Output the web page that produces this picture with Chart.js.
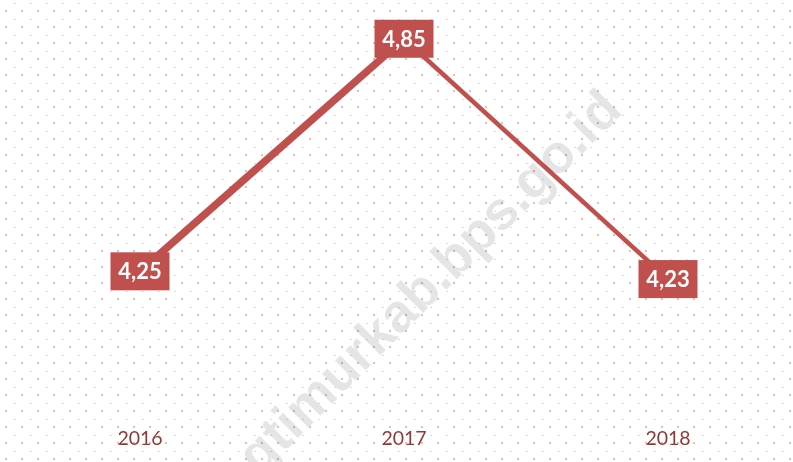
<!DOCTYPE html>
<html>
<head>
<meta charset="utf-8">
<script src="https://cdn.jsdelivr.net/npm/chart.js@4/dist/chart.umd.min.js"></script>
<style>
  html, body { margin: 0; padding: 0; background: #fff; }
  #wadah { width: 793px; height: 462px; }
</style>
</head>
<body>
<div id="wadah"><canvas id="grafik"></canvas></div>
<script>
const tahun = ['2016', '2017', '2018']
const nilai = [4.25, 4.85, 4.23]
const watermark = 'lampungtimurkab.bps.go.id'

const merah = '#c0504d'

// latar titik-titik
function buatPola(ctx) {
  const tile = document.createElement('canvas')
  tile.width = 16
  tile.height = 16
  const t = tile.getContext('2d')
  t.fillStyle = '#fff'
  t.fillRect(0, 0, 16, 16)
  t.fillStyle = '#e8bdbc'
  t.fillRect(5, 10, 2, 2)
  t.fillStyle = '#f1d3d2'
  t.fillRect(14, 3, 2, 1)
  return ctx.createPattern(tile, 'repeat')
}

const latar = {
  id: 'latar',
  beforeDraw(chart) {
    const ctx = chart.ctx
    ctx.save()
    ctx.fillStyle = buatPola(ctx)
    ctx.fillRect(0, 0, chart.width, chart.height)
    ctx.restore()
  }
}

const labelKotak = {
  id: 'labelKotak',
  afterDatasetsDraw(chart) {
    const ctx = chart.ctx
    const meta = chart.getDatasetMeta(0)
    ctx.save()
    ctx.font = 'bold 22px Lato'
    ctx.textAlign = 'center'
    ctx.textBaseline = 'middle'
    meta.data.forEach((titik, i) => {
      const teks = nilai[i].toFixed(2).replace('.', ',')
      ctx.fillStyle = merah
      ctx.fillRect(titik.x - 29.5, titik.y - 19, 59, 38)
      ctx.fillStyle = '#fff'
      ctx.fillText(teks, titik.x, titik.y + 1)
    })
    ctx.restore()
  }
}

const tandaAir = {
  id: 'tandaAir',
  afterDraw(chart) {
    const ctx = chart.ctx
    ctx.save()
    ctx.translate(624, 112)
    ctx.rotate(-45 * Math.PI / 180)
    ctx.font = 'bold 54px "Liberation Sans"'
    ctx.textAlign = 'right'
    ctx.textBaseline = 'alphabetic'
    ctx.fillStyle = 'rgba(0,0,0,0.1)'
    ctx.fillText(watermark, 0, 0)
    ctx.restore()
  }
}

new Chart(document.querySelector('#grafik').getContext('2d'), {
  type: 'line',
  data: {
    labels: tahun,
    datasets: [{
      data: nilai,
      borderColor: merah,
      borderWidth: 5,
      pointRadius: 0,
      clip: false,
      segment: {
        borderWidth: c => c.p0DataIndex === 0 ? 7.5 : 4.5
      }
    }]
  },
  options: {
    responsive: true,
    maintainAspectRatio: false,
    animation: false,
    layout: { padding: { left: 140, right: 125, top: 0, bottom: 12 } },
    plugins: {
      legend: { display: false },
      tooltip: { enabled: false }
    },
    scales: {
      x: {
        grid: { display: false },
        border: { display: false },
        ticks: {
          color: '#953735',
          padding: 0,
          font: { family: 'Lato', size: 19.5 }
        }
      },
      y: {
        display: false,
        min: 3.87,
        max: 4.95
      }
    }
  },
  plugins: [latar, labelKotak, tandaAir]
})
</script>
</body>
</html>
